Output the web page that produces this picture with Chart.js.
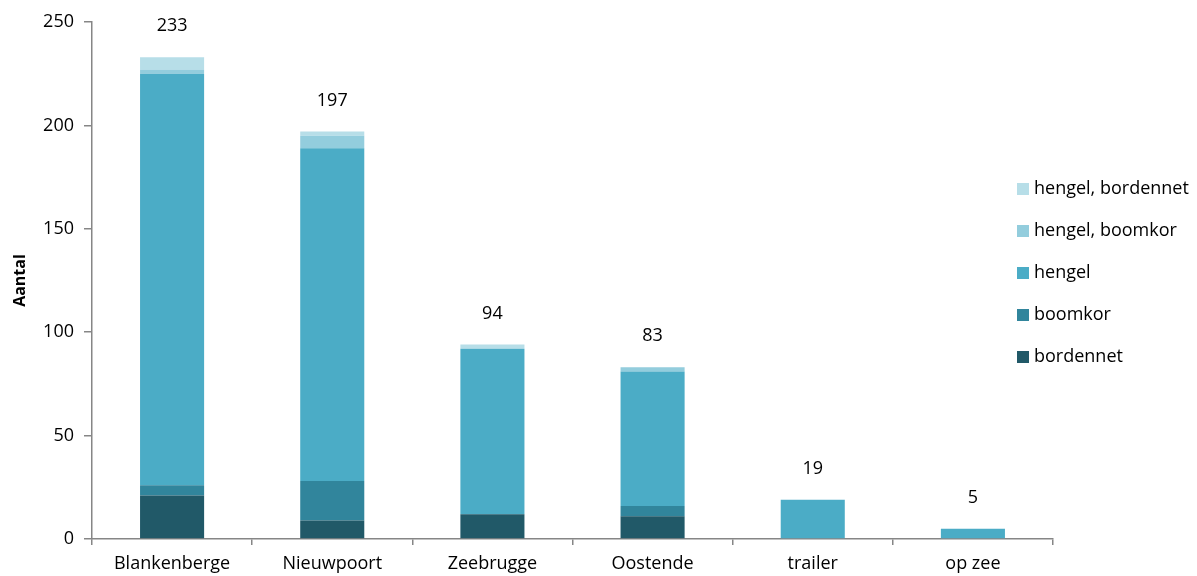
<!DOCTYPE html>
<html lang="nl">
<head>
<meta charset="utf-8">
<title>Aantal per locatie</title>
<script src="https://cdn.jsdelivr.net/npm/chart.js@4.4.1/dist/chart.umd.min.js"></script>
<style>
  html, body { margin: 0; padding: 0; background: #fff; }
  #wrap { position: relative; width: 1197px; height: 576px; }
</style>
</head>
<body>
<div id="wrap"><canvas id="chart" width="1197" height="576"></canvas></div>
<script>
'use strict';

// ── Data ──────────────────────────────────────────────────────
const locaties        = ['Blankenberge', 'Nieuwpoort', 'Zeebrugge', 'Oostende', 'trailer', 'op zee'];
const bordennet       = [21,   9, 12, 11,  0, 0];
const boomkor         = [ 5,  19,  0,  5,  0, 0];
const hengel          = [199, 161, 80, 65, 19, 5];
const hengelBoomkor   = [ 2,   6,  0,  2,  0, 0];
const hengelBordennet = [ 6,   2,  2,  0,  0, 0];
const yTicks          = [0, 50, 100, 150, 200, 250];

const FONT = "'Open Sans', 'Liberation Sans', sans-serif";

const series = [
  { label: 'bordennet',         data: bordennet,       color: '#215968' },
  { label: 'boomkor',           data: boomkor,         color: '#31859C' },
  { label: 'hengel',            data: hengel,          color: '#4BACC6' },
  { label: 'hengel, boomkor',   data: hengelBoomkor,   color: '#93CDDD' },
  { label: 'hengel, bordennet', data: hengelBordennet, color: '#B7DEE8' },
];

// ── Plugins ───────────────────────────────────────────────────
// totals above each stacked column
const totalsPlugin = {
  id: 'totals',
  afterDatasetsDraw(chart) {
    const { ctx, scales: { x, y } } = chart;
    ctx.save();
    ctx.font = `18px ${FONT}`;
    ctx.fillStyle = '#000';
    ctx.textAlign = 'center';
    ctx.textBaseline = 'middle';
    locaties.forEach((_, i) => {
      const sum = chart.data.datasets.reduce((s, ds) => s + ds.data[i], 0);
      ctx.fillText(String(sum), x.getPixelForValue(i), y.getPixelForValue(sum) - 31);
    });
    ctx.restore();
  }
};

// legend at the right, top series first
const legendPlugin = {
  id: 'sideLegend',
  afterDraw(chart) {
    const { ctx } = chart;
    const items = chart.data.datasets.slice().reverse();
    ctx.save();
    ctx.font = `18px ${FONT}`;
    ctx.textBaseline = 'middle';
    ctx.textAlign = 'left';
    items.forEach((ds, k) => {
      const cy = 189 + k * 42;
      ctx.fillStyle = ds.backgroundColor;
      ctx.fillRect(1017, cy - 6, 12, 12);
      ctx.fillStyle = '#000';
      ctx.fillText(ds.label, 1034, cy);
    });
    ctx.restore();
  }
};

// ── Chart ─────────────────────────────────────────────────────
new Chart(document.getElementById('chart'), {
  type: 'bar',
  data: {
    labels: locaties,
    datasets: series.map(s => ({
      label: s.label,
      data: s.data,
      backgroundColor: s.color,
      borderWidth: 0,
      categoryPercentage: 1,
      barPercentage: 0.4,
    })),
  },
  options: {
    responsive: false,
    animation: false,
    events: [],
    layout: { padding: { top: 22, right: 144, left: 11, bottom: 0 } },
    plugins: {
      legend: { display: false },
      tooltip: { enabled: false },
    },
    scales: {
      x: {
        stacked: true,
        border: { color: '#868686', width: 1.5 },
        grid: { display: true, drawOnChartArea: false, drawTicks: true, tickLength: 6, color: '#868686', lineWidth: 1.5 },
        ticks: { color: '#000', font: { family: FONT, size: 18 }, padding: 8 },
        afterFit(scale) { scale.height = 37; },
      },
      y: {
        stacked: true,
        min: 0,
        max: 250,
        afterBuildTicks(scale) { scale.ticks = yTicks.map(v => ({ value: v })); },
        border: { color: '#868686', width: 1.5 },
        grid: { display: true, drawOnChartArea: false, drawTicks: true, tickLength: 8, color: '#868686', lineWidth: 1.5 },
        ticks: { color: '#000', font: { family: FONT, size: 18 }, padding: 10 },
        title: { display: true, text: 'Aantal', color: '#000', font: { family: FONT, size: 16, weight: 'bold' }, padding: { top: 0, bottom: 8 } },
        afterFit(scale) { scale.width = 81; },
      },
    },
  },
  plugins: [totalsPlugin, legendPlugin],
});
</script>
</body>
</html>
